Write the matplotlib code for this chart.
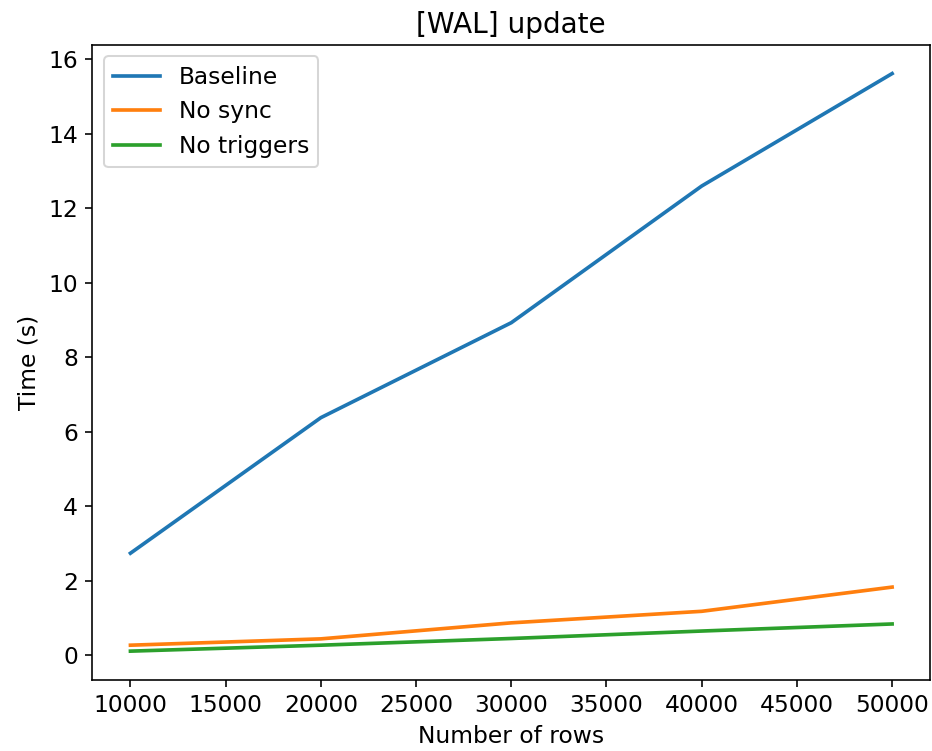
import matplotlib
matplotlib.use("Agg")
import matplotlib.pyplot as plt

rows = [10000, 20000, 30000, 40000, 50000]
baseline = [2.74, 6.38, 8.93, 12.6, 15.62]
no_sync = [0.27, 0.44, 0.87, 1.18, 1.83]
no_triggers = [0.11, 0.27, 0.45, 0.65, 0.84]

plt.rcParams["font.size"] = 11.5
plt.rcParams["lines.linewidth"] = 1.8

fig = plt.figure(figsize=(933 / 146, 751 / 146), dpi=146)
ax = fig.add_axes([0.099, 0.0945, 0.898, 0.846])

ax.plot(rows, baseline, label="Baseline")
ax.plot(rows, no_sync, label="No sync")
ax.plot(rows, no_triggers, label="No triggers")

ax.set_title("[WAL] update")
ax.set_xlabel("Number of rows")
ax.set_ylabel("Time (s)")
ax.legend(loc="upper left")

fig.savefig("out.png", dpi=146)
